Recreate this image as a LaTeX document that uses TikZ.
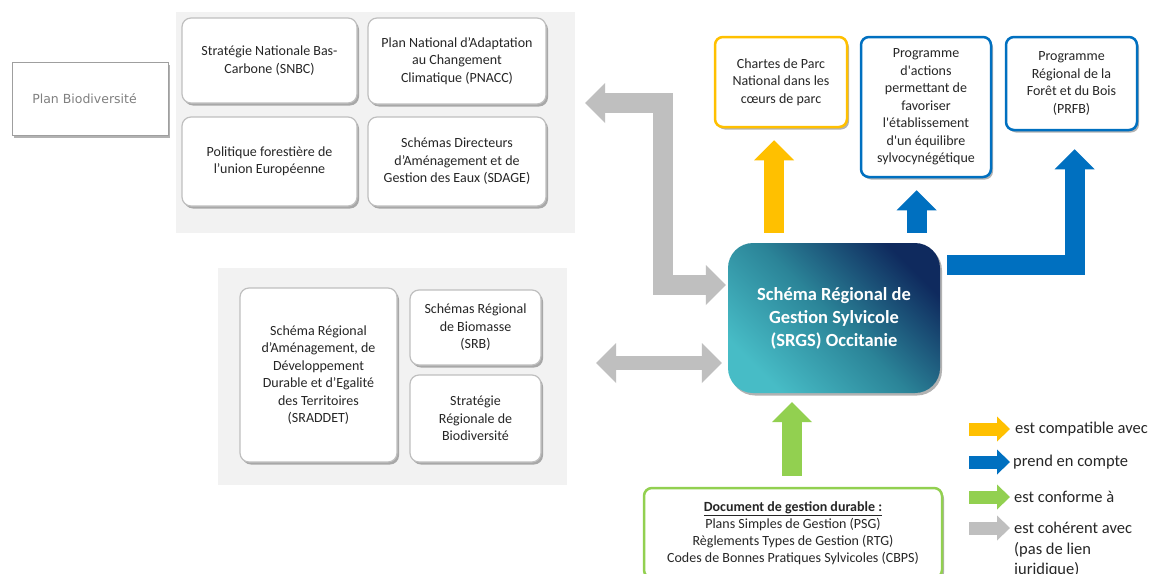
\documentclass[tikz,border=0pt]{standalone}
\usepackage{fontspec}
\setmainfont{Carlito}
\newfontfamily\pbfont{DejaVu Sans}
\usetikzlibrary{arrows.meta,shadows,calc}
\definecolor{cyel}{HTML}{FFC000}
\definecolor{cblu}{HTML}{0070C0}
\definecolor{cgrn}{HTML}{92D050}
\definecolor{cgry}{HTML}{BFBFBF}
\definecolor{cpanel}{HTML}{F2F2F2}
\definecolor{ctext}{HTML}{262626}
\definecolor{cdark}{HTML}{0F2A5E}
\definecolor{cmid}{HTML}{2B8498}
\definecolor{clight}{HTML}{47BCC6}
\begin{document}
\begin{tikzpicture}[x=1pt,y=-1pt,
  font=\fontsize{14}{17.5}\selectfont, text=ctext,
  every node/.style={inner sep=0pt, align=center},
  shad/.style={drop shadow={shadow xshift=2pt,shadow yshift=-2.5pt,opacity=0.3,fill=black}},
  panel/.style={fill=cpanel, draw=none},
  wbox/.style={draw=cgry, line width=1.2pt, fill=white, rounded corners=9pt, shad},
  cbox/.style={draw=#1, line width=2.5pt, fill=white, rounded corners=8pt, shad},
  fat/.style={draw=#1, line width=20pt, line join=miter, line cap=butt},
  bighead/.style={-{Triangle[length=20pt,width=40pt,line width=0pt]}},
  twoheads/.style={{Triangle[length=20pt,width=40pt,line width=0pt]}-{Triangle[length=20pt,width=40pt,line width=0pt]}},
  lghead/.style={-{Triangle[length=13pt,width=25pt,line width=0pt]}},
  legtext/.style={anchor=west, align=left, font=\fontsize{16.5}{20.5}\selectfont},
  srgsbox/.style={rounded corners=25pt, top color=cdark, bottom color=clight, middle color=cmid, shading angle=-45, text=white, font=\bfseries\fontsize{18.5}{23}\selectfont, shad}
]
\useasboundingbox (0,0) rectangle (1154,573);
\fill[white] (0,0) rectangle (1154,573);

% panels
\node[panel, minimum width=399pt, minimum height=221pt] (panel1) at (375.5,122.5) {};
\node[panel, minimum width=349pt, minimum height=217pt] (panel2) at (392.5,376.5) {};

% Plan Biodiversite
\node[draw=gray!75, line width=0.8pt, fill=white, shad, minimum width=156pt, minimum height=73pt,
      font=\pbfont\fontsize{12.5}{15}\selectfont, text=gray] (pb) at (90,98.5) {\hspace*{-11pt}Plan Biodiversité};

% panel 1 boxes
\node[wbox, minimum width=175pt, minimum height=85pt] (snbc) at (269.5,60.5) {Stratégie Nationale Bas-\\Carbone (SNBC)};
\node[wbox, minimum width=178pt, minimum height=86pt] (pnacc) at (457,61) {Plan National d’Adaptation\\au Changement\\Climatique (PNACC)};
\node[wbox, minimum width=175pt, minimum height=89pt] (pol) at (269.5,161.5) {Politique forestière de\\l’union Européenne};
\node[wbox, minimum width=178pt, minimum height=89pt] (sdage) at (457,161.5) {Schémas Directeurs\\d’Aménagement et de\\Gestion des Eaux (SDAGE)};

% panel 2 boxes
\node[wbox, minimum width=157pt, minimum height=174pt] (sraddet) at (318.5,375) {Schéma Régional\\d’Aménagement, de\\Développement\\Durable et d’Egalité\\des Territoires\\(SRADDET)};
\node[wbox, minimum width=131pt, minimum height=75pt] (srb) at (475.5,327.5) {Schémas Régional\\de Biomasse\\(SRB)};
\node[wbox, minimum width=131pt, minimum height=87pt] (srbio) at (475.5,418.5) {Stratégie\\Régionale de\\Biodiversité};

% top right boxes
\node[cbox=cyel, minimum width=132pt, minimum height=90pt] (chartes) at (781,82) {Chartes de Parc\\National dans les\\cœurs de parc};
\node[cbox=cblu, minimum width=130pt, minimum height=140pt] (prog) at (926,107) {Programme\\d\textquotesingle actions\\permettant de\\favoriser\\l\textquotesingle établissement\\d\textquotesingle un équilibre\\sylvocynégétique};
\node[cbox=cblu, minimum width=131pt, minimum height=93pt] (prfb) at (1071.5,83.5) {Programme\\Régional de la\\Forêt et du Bois\\(PRFB)};

% central box
\node[srgsbox, minimum width=212pt, minimum height=150pt] (srgs) at (834,318) {Schéma Régional de\\Gestion Sylvicole\\(SRGS) Occitanie};

% document box
\node[cbox=cgrn, minimum width=298pt, minimum height=90pt, font=\fontsize{14}{17}\selectfont] (doc) at (793,533) {\underline{\textbf{Document de gestion durable :}}\\Plans Simples de Gestion (PSG)\\Règlements Types de Gestion (RTG)\\Codes de Bonnes Pratiques Sylvicoles (CBPS)};

% connectors
\draw[fat=cgry, twoheads] ([xshift=10pt,yshift=19.5pt]panel1.east) -| ([xshift=-65pt,yshift=33pt]srgs.west) -- ([xshift=-2pt,yshift=33pt]srgs.west);
\draw[fat=cgry, line width=14pt, twoheads] ([xshift=29pt,yshift=13.5pt]panel2.east) -- ([xshift=-6pt,yshift=-45pt]srgs.west);
\draw[fat=cblu, bighead] ([xshift=7pt,yshift=53pt]srgs.east) -| ([xshift=3pt,yshift=-18pt]prfb.south);
\draw[fat=cyel, bighead] ([xshift=-60pt,yshift=10pt]srgs.north) -- ([xshift=-7pt,yshift=-12pt]chartes.south);
\draw[fat=cblu, bighead] ([xshift=82.5pt,yshift=10pt]srgs.north) -- ([xshift=-9.5pt,yshift=-12pt]prog.south);
\draw[fat=cgrn, bighead] ([xshift=-1pt,yshift=11pt]doc.north) -- ([xshift=-42pt,yshift=-9pt]srgs.south);

% legend
\coordinate (la1) at (969,429); \coordinate (lb1) at (1010,429);
\coordinate (la2) at (969,462); \coordinate (lb2) at (1010,462);
\coordinate (la3) at (969,497); \coordinate (lb3) at (1010,497);
\coordinate (la4) at (969,528); \coordinate (lb4) at (1010,528);
\draw[fat=cyel, line width=13pt, lghead] (la1) -- (lb1);
\draw[fat=cblu, line width=13pt, lghead] (la2) -- (lb2);
\draw[fat=cgrn, line width=13pt, lghead] (la3) -- (lb3);
\draw[fat=cgry, line width=13pt, lghead] (la4) -- (lb4);
\node[legtext] (lt1) at ([xshift=5pt]lb1) {est compatible avec};
\node[legtext] (lt2) at ([xshift=3pt]lb2) {prend en compte};
\node[legtext] (lt3) at ([xshift=4pt]lb3) {est conforme à};
\node[legtext, anchor=north west] (lt4) at ([xshift=4pt,yshift=6pt]lb4) {est cohérent avec\\(pas de lien\\juridique)};
\end{tikzpicture}
\end{document}
